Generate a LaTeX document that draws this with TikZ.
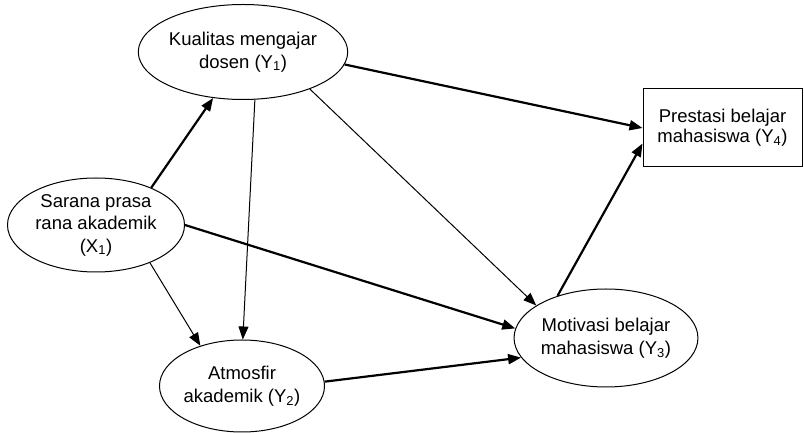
\documentclass[tikz,border=0pt]{standalone}
\usepackage{fontspec}
\setmainfont{Liberation Sans}
\usetikzlibrary{arrows.meta,shapes.geometric}

\begin{document}
\begin{tikzpicture}[x=1pt,y=1pt]
  \def\FSIZE{18.5}
  \def\FSKIP{22.5}

  \tikzset{
      varell/.style={ellipse,draw,line width=1pt,inner sep=0pt,align=center,
        font=\fontsize{\FSIZE}{\FSKIP}\selectfont},
      varbox/.style={rectangle,draw,line width=1pt,inner sep=0pt,align=center,
        font=\fontsize{\FSIZE}{\FSKIP}\selectfont},
      path/.style={-{Triangle[length=13pt,width=10pt]},line width=2.2pt},
      thinpath/.style={-{Triangle[length=13pt,width=10pt]},line width=1pt},
  }

  \useasboundingbox (0,0) rectangle (804,433);

  \node [varell,minimum width=182pt,minimum height=95pt] (y1) at (243,381)
    {Kualitas mengajar\\dosen (Y\textsubscript{1})};
  \node [varell,minimum width=177pt,minimum height=94pt] (x1) at (96,208)
    {Sarana prasa\\rana akademik\\(X\textsubscript{1})};
  \node [varell,minimum width=164pt,minimum height=92pt] (y2) at (242,47)
    {Atmosfir\\akademik (Y\textsubscript{2})};
  \node [varell,minimum width=178pt,minimum height=98pt] (y3) at (606,95)
    {Motivasi belajar\\mahasiswa (Y\textsubscript{3})};
  \node [varbox,minimum width=159pt,minimum height=78pt] (y4) at (722.5,305)
    {\raisebox{5pt}{\shortstack{Prestasi belajar\\mahasiswa (Y\textsubscript{4})}}};

  % paths from X1
  \draw [path] (x1.34) -- (y1.237);
  \draw [thinpath] (x1.325) -- (y2.136);
  \draw [path] (x1.0) -- (y3.174);

  % paths from Y1
  \draw [path] (y1.353) -- (y4.west);
  \draw [thinpath] (y1.284) -- (y2.89);
  \draw [thinpath] (y1.331) -- (y3.155);

  % paths to Y3 and Y4
  \draw [path] (y2.3) -- (y3.193);
  \draw [path] (y3.139) -- (y4.191);
\end{tikzpicture}
\end{document}
